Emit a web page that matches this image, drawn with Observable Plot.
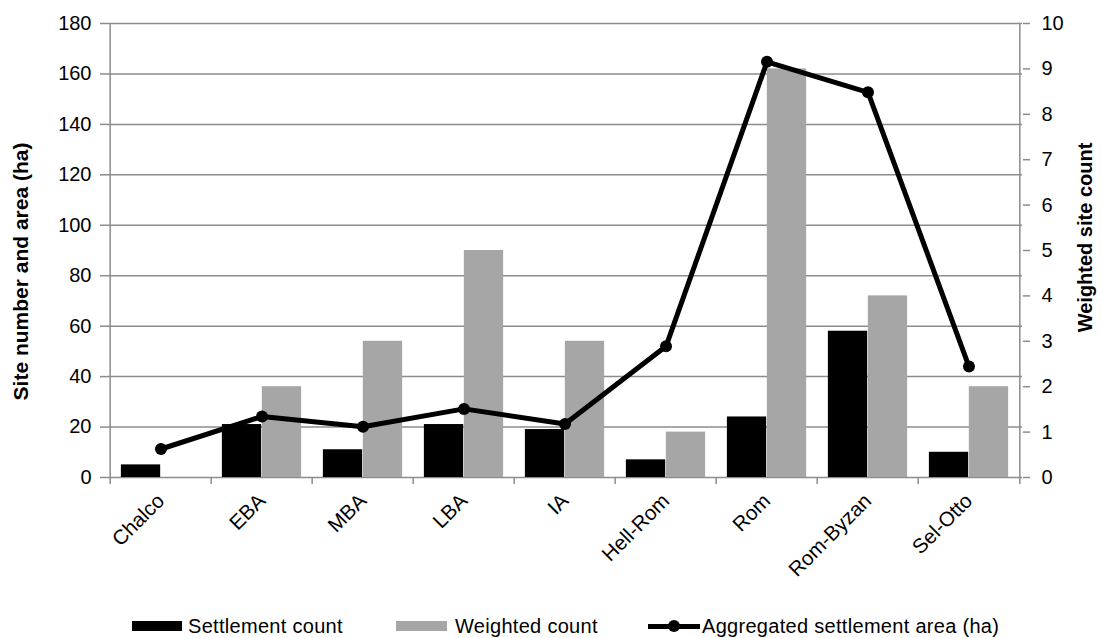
<!DOCTYPE html>
<html>
<head>
<meta charset="utf-8">
<script src="https://cdn.jsdelivr.net/npm/d3@7"></script>
<script src="https://cdn.jsdelivr.net/npm/@observablehq/plot@0.6"></script>
<style>
  body { margin: 0; background: #fff; font-family: "Liberation Sans", Arial, sans-serif; }
  #wrap { position: relative; width: 1102px; height: 638px; overflow: hidden; }
  #legend { position: absolute; left: 0; top: 605px; width: 1102px; height: 33px; font-size: 20px; letter-spacing: 0.3px; color: #000; }
  #legend .sw { position: absolute; }
  #legend .lb { position: absolute; white-space: nowrap; line-height: 20px; }
</style>
</head>
<body>
<div id="wrap"><div id="chart"></div><div id="legend"></div></div>
<script>
// ---- data ----
const categories = ["Chalco", "EBA", "MBA", "LBA", "IA", "Hell-Rom", "Rom", "Rom-Byzan", "Sel-Otto"];
const settlementCount = [5, 21, 11, 21, 19, 7, 24, 58, 10];
const weightedCount = [0, 2, 3, 5, 3, 1, 9, 4, 2];
const aggregatedArea = [11.3, 24.2, 20.1, 27.2, 21.2, 52, 164.8, 152.7, 44];
const leftTicks = [0, 20, 40, 60, 80, 100, 120, 140, 160, 180];
const rightTicks = [0, 1, 2, 3, 4, 5, 6, 7, 8, 9, 10];
const leftTitle = "Site number and area (ha)";
const rightTitle = "Weighted site count";
const seriesNames = ["Settlement count", "Weighted count", "Aggregated settlement area (ha)"];

// ---- layout ----
const W = 1102, H = 605;
const marginLeft = 107, marginRight = 80, marginTop = 23, marginBottom = 128;
const n = categories.length;
const bw = (W - marginLeft - marginRight) / n;
const barW = bw * 0.393;
const gap = (bw - 2 * barW) / 2;
const leftMax = leftTicks[leftTicks.length - 1];
const rightMax = rightTicks[rightTicks.length - 1];
const k = leftMax / rightMax; // secondary axis mapping
const gridColor = "#8c8c8c";
const black = "#000000", gray = "#a6a6a6";

const rows = categories.map((c, i) => ({
  cat: c, settlement: settlementCount[i], weighted: weightedCount[i], area: aggregatedArea[i]
}));

const chart = Plot.plot({
  width: W, height: H, marginLeft, marginRight, marginTop, marginBottom,
  style: { fontFamily: "'Liberation Sans', Arial, sans-serif", fontSize: "19px", color: "#000", background: "#fff" },
  x: { type: "band", domain: categories, padding: 0, axis: null },
  y: { domain: [0, leftMax], axis: null },
  marks: [
    Plot.ruleY(leftTicks, { stroke: gridColor, strokeWidth: 1.5 }),
    Plot.barY(rows, { x: "cat", y: "settlement", fill: black, insetLeft: gap, insetRight: gap + barW }),
    Plot.barY(rows, { x: "cat", y: d => d.weighted * k, fill: gray, insetLeft: gap + barW, insetRight: gap }),
    Plot.ruleX([categories[0]], { x: d => d, dx: -bw / 2, stroke: gridColor, strokeWidth: 1.5, insetBottom: -7 }),
    Plot.ruleX([categories[n - 1]], { x: d => d, dx: bw / 2, stroke: gridColor, strokeWidth: 1.5, insetBottom: -7 }),
    Plot.ruleX(categories.slice(1), { x: d => d, dx: -bw / 2, y1: 0, y2: 0, insetTop: 7, stroke: gridColor, strokeWidth: 1.5 }),
    Plot.axisY({ anchor: "left", ticks: leftTicks, tickSize: 7, tickPadding: 9, stroke: gridColor, strokeWidth: 1.5, fontSize: 20, label: null }),
    Plot.axisY({ anchor: "right", ticks: rightTicks.map(v => v * k), tickFormat: v => String(Math.round(v / k)),
                 tickSize: 7, tickPadding: 12, stroke: gridColor, strokeWidth: 1.5, fontSize: 20, label: null }),
    Plot.axisX({ anchor: "bottom", tickSize: 0, tickRotate: -45, tickPadding: 20, fontSize: 20.5, label: null }),
    Plot.lineY(rows, { x: "cat", y: "area", stroke: black, strokeWidth: 5 }),
    Plot.dot(rows, { x: "cat", y: "area", r: 6, fill: black }),
    Plot.text([leftTitle], { frameAnchor: "left", dx: -86, dy: 21, rotate: -90, fontWeight: "bold", fontSize: 21, textAnchor: "middle", lineAnchor: "middle" }),
    Plot.text([rightTitle], { frameAnchor: "right", dx: 63, dy: -13, rotate: -90, fontWeight: "bold", fontSize: 20, textAnchor: "middle", lineAnchor: "middle" })
  ]
});
document.getElementById("chart").appendChild(chart);

// ---- legend (HTML, below the SVG) ----
const legend = document.getElementById("legend");
const cy = 21;
const items = [
  { name: seriesNames[0], kind: "bar", color: black, sx: 132, sw: 50, tx: 188 },
  { name: seriesNames[1], kind: "bar", color: gray, sx: 396, sw: 51, tx: 455 },
  { name: seriesNames[2], kind: "line", color: black, sx: 648, sw: 52, tx: 702 }
];
items.forEach(it => {
  if (it.kind === "bar") {
    const s = document.createElement("div");
    s.className = "sw";
    Object.assign(s.style, { left: it.sx + "px", top: (cy - 5) + "px", width: it.sw + "px", height: "10px", background: it.color });
    legend.appendChild(s);
  } else {
    const s = document.createElement("div");
    s.className = "sw";
    Object.assign(s.style, { left: it.sx + "px", top: (cy - 2.5) + "px", width: it.sw + "px", height: "5px", background: it.color });
    legend.appendChild(s);
    const d = document.createElement("div");
    d.className = "sw";
    Object.assign(d.style, { left: (it.sx + it.sw / 2 - 6) + "px", top: (cy - 6) + "px", width: "12px", height: "12px", borderRadius: "50%", background: it.color });
    legend.appendChild(d);
  }
  const t = document.createElement("div");
  t.className = "lb";
  t.textContent = it.name;
  Object.assign(t.style, { left: it.tx + "px", top: (cy - 10) + "px" });
  legend.appendChild(t);
});
</script>
</body>
</html>
